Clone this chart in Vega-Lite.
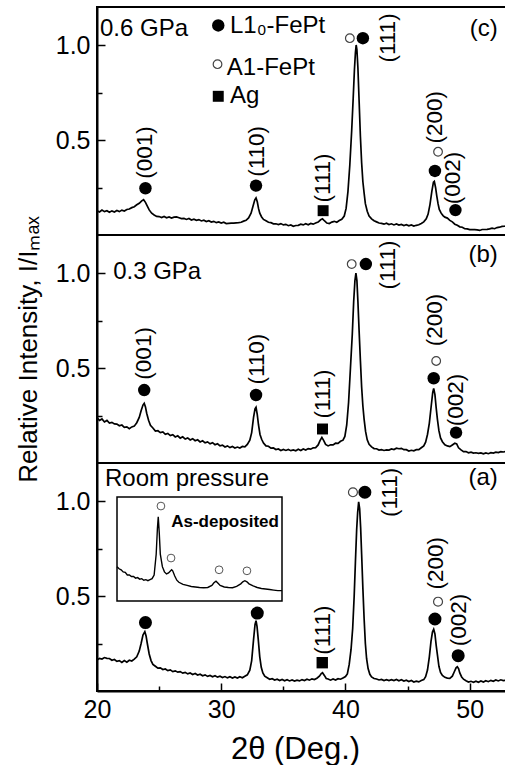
{
  "$schema": "https://vega.github.io/schema/vega-lite/v6.json",
  "background": "white",
  "padding": {"left": 13, "top": 6, "right": 0, "bottom": 0},
  "spacing": 0,
  "bounds": "flush",
  "config": {
    "concat": {"spacing": 0},
    "view": {"stroke": "black", "strokeWidth": 2},
    "font": "Liberation Sans",
    "axis": {"grid": false, "domainColor": "black", "domainWidth": 2, "tickColor": "black", "tickWidth": 1.5, "labelColor": "black", "titleColor": "black", "labelFont": "Liberation Sans", "titleFont": "Liberation Sans", "labelFontSize": 25, "titleFontWeight": "normal", "labelFlush": false}
  },
  "datasets": {
    "specC": [
      {"x":20.0,"y":0.128},{"x":20.2,"y":0.121},{"x":20.4,"y":0.131},{"x":20.6,"y":0.123},{"x":20.8,"y":0.128},{"x":21.0,"y":0.120},{"x":21.2,"y":0.127},{"x":21.4,"y":0.121},{"x":21.6,"y":0.129},{"x":21.8,"y":0.123},{"x":22.0,"y":0.131},{"x":22.2,"y":0.126},{"x":22.4,"y":0.134},{"x":22.6,"y":0.137},{"x":22.8,"y":0.144},{"x":23.0,"y":0.149},{"x":23.2,"y":0.159},{"x":23.4,"y":0.167},{"x":23.6,"y":0.180},{"x":23.75,"y":0.186},{"x":23.9,"y":0.172},{"x":24.05,"y":0.152},{"x":24.2,"y":0.132},{"x":24.4,"y":0.115},{"x":24.6,"y":0.105},{"x":24.8,"y":0.098},{"x":25.0,"y":0.097},{"x":25.2,"y":0.092},{"x":25.4,"y":0.098},{"x":25.6,"y":0.091},{"x":25.8,"y":0.095},{"x":26.0,"y":0.089},{"x":26.2,"y":0.094},{"x":26.4,"y":0.095},{"x":26.6,"y":0.091},{"x":26.8,"y":0.086},{"x":27.0,"y":0.087},{"x":27.2,"y":0.082},{"x":27.4,"y":0.087},{"x":27.6,"y":0.079},{"x":27.8,"y":0.083},{"x":28.0,"y":0.077},{"x":28.2,"y":0.081},{"x":28.4,"y":0.074},{"x":28.6,"y":0.078},{"x":28.8,"y":0.071},{"x":29.0,"y":0.075},{"x":29.2,"y":0.068},{"x":29.4,"y":0.072},{"x":29.6,"y":0.065},{"x":29.8,"y":0.069},{"x":30.0,"y":0.063},{"x":30.2,"y":0.067},{"x":30.4,"y":0.060},{"x":30.6,"y":0.061},{"x":30.8,"y":0.062},{"x":31.0,"y":0.063},{"x":31.2,"y":0.064},{"x":31.4,"y":0.065},{"x":31.6,"y":0.067},{"x":31.8,"y":0.073},{"x":32.0,"y":0.077},{"x":32.2,"y":0.090},{"x":32.4,"y":0.115},{"x":32.55,"y":0.150},{"x":32.7,"y":0.185},{"x":32.8,"y":0.195},{"x":32.9,"y":0.175},{"x":33.0,"y":0.140},{"x":33.1,"y":0.115},{"x":33.25,"y":0.095},{"x":33.4,"y":0.082},{"x":33.6,"y":0.075},{"x":33.8,"y":0.067},{"x":34.0,"y":0.065},{"x":34.2,"y":0.059},{"x":34.4,"y":0.059},{"x":34.6,"y":0.055},{"x":34.8,"y":0.060},{"x":35.0,"y":0.053},{"x":35.2,"y":0.056},{"x":35.4,"y":0.049},{"x":35.6,"y":0.053},{"x":35.8,"y":0.046},{"x":36.0,"y":0.050},{"x":36.2,"y":0.051},{"x":36.4,"y":0.057},{"x":36.6,"y":0.053},{"x":36.8,"y":0.059},{"x":37.0,"y":0.054},{"x":37.2,"y":0.061},{"x":37.4,"y":0.057},{"x":37.6,"y":0.063},{"x":37.8,"y":0.068},{"x":38.0,"y":0.080},{"x":38.15,"y":0.085},{"x":38.3,"y":0.075},{"x":38.5,"y":0.063},{"x":38.7,"y":0.060},{"x":38.9,"y":0.068},{"x":39.1,"y":0.072},{"x":39.3,"y":0.067},{"x":39.5,"y":0.076},{"x":39.7,"y":0.083},{"x":39.9,"y":0.100},{"x":40.05,"y":0.140},{"x":40.2,"y":0.230},{"x":40.35,"y":0.370},{"x":40.5,"y":0.550},{"x":40.62,"y":0.720},{"x":40.72,"y":0.870},{"x":40.8,"y":0.960},{"x":40.86,"y":1.000},{"x":40.92,"y":0.975},{"x":41.0,"y":0.880},{"x":41.1,"y":0.700},{"x":41.2,"y":0.520},{"x":41.3,"y":0.380},{"x":41.4,"y":0.280},{"x":41.5,"y":0.220},{"x":41.6,"y":0.165},{"x":41.75,"y":0.125},{"x":41.9,"y":0.100},{"x":42.1,"y":0.085},{"x":42.3,"y":0.075},{"x":42.5,"y":0.069},{"x":42.7,"y":0.063},{"x":42.9,"y":0.061},{"x":43.1,"y":0.057},{"x":43.3,"y":0.062},{"x":43.5,"y":0.055},{"x":43.7,"y":0.059},{"x":43.9,"y":0.053},{"x":44.1,"y":0.058},{"x":44.3,"y":0.052},{"x":44.5,"y":0.056},{"x":44.7,"y":0.050},{"x":44.9,"y":0.054},{"x":45.1,"y":0.048},{"x":45.3,"y":0.053},{"x":45.5,"y":0.047},{"x":45.7,"y":0.051},{"x":45.9,"y":0.054},{"x":46.1,"y":0.061},{"x":46.3,"y":0.069},{"x":46.5,"y":0.085},{"x":46.65,"y":0.110},{"x":46.8,"y":0.160},{"x":46.95,"y":0.230},{"x":47.08,"y":0.278},{"x":47.15,"y":0.282},{"x":47.25,"y":0.250},{"x":47.35,"y":0.205},{"x":47.45,"y":0.165},{"x":47.55,"y":0.135},{"x":47.7,"y":0.115},{"x":47.85,"y":0.102},{"x":48.0,"y":0.094},{"x":48.2,"y":0.089},{"x":48.4,"y":0.077},{"x":48.6,"y":0.069},{"x":48.8,"y":0.057},{"x":49.0,"y":0.051},{"x":49.2,"y":0.043},{"x":49.4,"y":0.041},{"x":49.6,"y":0.033},{"x":49.8,"y":0.032},{"x":50.0,"y":0.028},{"x":50.2,"y":0.028},{"x":50.4,"y":0.028},{"x":50.6,"y":0.027},{"x":50.8,"y":0.024},{"x":51.0,"y":0.029},{"x":51.2,"y":0.029},{"x":51.4,"y":0.030},{"x":51.6,"y":0.032},{"x":51.8,"y":0.036},{"x":52.0,"y":0.033},{"x":52.2,"y":0.039},{"x":52.4,"y":0.041},{"x":52.6,"y":0.045},{"x":52.8,"y":0.046},{"x":53.0,"y":0.048}
    ],
    "specB": [
      {"x":20.0,"y":0.238},{"x":20.2,"y":0.224},{"x":20.4,"y":0.232},{"x":20.6,"y":0.216},{"x":20.8,"y":0.224},{"x":21.0,"y":0.210},{"x":21.2,"y":0.214},{"x":21.4,"y":0.206},{"x":21.6,"y":0.205},{"x":21.8,"y":0.196},{"x":22.0,"y":0.200},{"x":22.2,"y":0.188},{"x":22.4,"y":0.190},{"x":22.6,"y":0.181},{"x":22.8,"y":0.190},{"x":23.0,"y":0.194},{"x":23.2,"y":0.212},{"x":23.4,"y":0.240},{"x":23.55,"y":0.275},{"x":23.7,"y":0.305},{"x":23.8,"y":0.314},{"x":23.9,"y":0.295},{"x":24.0,"y":0.262},{"x":24.15,"y":0.225},{"x":24.3,"y":0.198},{"x":24.5,"y":0.184},{"x":24.7,"y":0.168},{"x":24.9,"y":0.170},{"x":25.1,"y":0.160},{"x":25.3,"y":0.164},{"x":25.5,"y":0.151},{"x":25.7,"y":0.156},{"x":25.9,"y":0.144},{"x":26.1,"y":0.149},{"x":26.3,"y":0.137},{"x":26.5,"y":0.143},{"x":26.7,"y":0.131},{"x":26.9,"y":0.138},{"x":27.1,"y":0.126},{"x":27.3,"y":0.132},{"x":27.5,"y":0.121},{"x":27.7,"y":0.128},{"x":27.9,"y":0.117},{"x":28.1,"y":0.122},{"x":28.3,"y":0.111},{"x":28.5,"y":0.117},{"x":28.7,"y":0.106},{"x":28.9,"y":0.111},{"x":29.1,"y":0.101},{"x":29.3,"y":0.107},{"x":29.5,"y":0.096},{"x":29.7,"y":0.101},{"x":29.9,"y":0.090},{"x":30.1,"y":0.094},{"x":30.3,"y":0.084},{"x":30.5,"y":0.090},{"x":30.7,"y":0.081},{"x":30.9,"y":0.087},{"x":31.1,"y":0.079},{"x":31.3,"y":0.084},{"x":31.5,"y":0.079},{"x":31.7,"y":0.087},{"x":31.9,"y":0.085},{"x":32.1,"y":0.098},{"x":32.3,"y":0.120},{"x":32.45,"y":0.160},{"x":32.6,"y":0.240},{"x":32.72,"y":0.285},{"x":32.8,"y":0.293},{"x":32.9,"y":0.255},{"x":33.0,"y":0.200},{"x":33.12,"y":0.150},{"x":33.25,"y":0.125},{"x":33.4,"y":0.105},{"x":33.6,"y":0.090},{"x":33.8,"y":0.088},{"x":34.0,"y":0.078},{"x":34.2,"y":0.079},{"x":34.4,"y":0.071},{"x":34.6,"y":0.074},{"x":34.8,"y":0.066},{"x":35.0,"y":0.071},{"x":35.2,"y":0.066},{"x":35.4,"y":0.071},{"x":35.6,"y":0.065},{"x":35.8,"y":0.069},{"x":36.0,"y":0.064},{"x":36.2,"y":0.072},{"x":36.4,"y":0.066},{"x":36.6,"y":0.074},{"x":36.8,"y":0.068},{"x":37.0,"y":0.076},{"x":37.2,"y":0.073},{"x":37.4,"y":0.080},{"x":37.6,"y":0.081},{"x":37.8,"y":0.095},{"x":37.95,"y":0.118},{"x":38.1,"y":0.135},{"x":38.25,"y":0.118},{"x":38.4,"y":0.098},{"x":38.6,"y":0.090},{"x":38.8,"y":0.096},{"x":39.0,"y":0.095},{"x":39.2,"y":0.104},{"x":39.4,"y":0.103},{"x":39.6,"y":0.114},{"x":39.8,"y":0.120},{"x":39.95,"y":0.140},{"x":40.1,"y":0.200},{"x":40.25,"y":0.320},{"x":40.4,"y":0.500},{"x":40.55,"y":0.680},{"x":40.66,"y":0.850},{"x":40.76,"y":0.960},{"x":40.84,"y":1.000},{"x":40.92,"y":0.960},{"x":41.0,"y":0.850},{"x":41.1,"y":0.690},{"x":41.2,"y":0.540},{"x":41.3,"y":0.400},{"x":41.4,"y":0.300},{"x":41.5,"y":0.230},{"x":41.62,"y":0.165},{"x":41.75,"y":0.122},{"x":41.9,"y":0.098},{"x":42.1,"y":0.085},{"x":42.3,"y":0.076},{"x":42.5,"y":0.075},{"x":42.7,"y":0.068},{"x":42.9,"y":0.070},{"x":43.1,"y":0.066},{"x":43.3,"y":0.069},{"x":43.5,"y":0.068},{"x":43.7,"y":0.074},{"x":43.9,"y":0.071},{"x":44.1,"y":0.078},{"x":44.3,"y":0.075},{"x":44.5,"y":0.077},{"x":44.7,"y":0.070},{"x":44.9,"y":0.070},{"x":45.1,"y":0.063},{"x":45.3,"y":0.067},{"x":45.5,"y":0.064},{"x":45.7,"y":0.070},{"x":45.9,"y":0.070},{"x":46.1,"y":0.080},{"x":46.3,"y":0.090},{"x":46.45,"y":0.110},{"x":46.6,"y":0.150},{"x":46.75,"y":0.210},{"x":46.9,"y":0.300},{"x":47.02,"y":0.370},{"x":47.1,"y":0.393},{"x":47.2,"y":0.360},{"x":47.3,"y":0.290},{"x":47.4,"y":0.230},{"x":47.52,"y":0.170},{"x":47.65,"y":0.132},{"x":47.8,"y":0.112},{"x":48.0,"y":0.096},{"x":48.2,"y":0.090},{"x":48.4,"y":0.086},{"x":48.6,"y":0.095},{"x":48.8,"y":0.104},{"x":48.95,"y":0.100},{"x":49.1,"y":0.080},{"x":49.3,"y":0.069},{"x":49.5,"y":0.060},{"x":49.7,"y":0.060},{"x":49.9,"y":0.054},{"x":50.1,"y":0.057},{"x":50.3,"y":0.052},{"x":50.5,"y":0.054},{"x":50.7,"y":0.051},{"x":50.9,"y":0.053},{"x":51.1,"y":0.048},{"x":51.3,"y":0.053},{"x":51.5,"y":0.049},{"x":51.7,"y":0.054},{"x":51.9,"y":0.052},{"x":52.1,"y":0.057},{"x":52.3,"y":0.055},{"x":52.5,"y":0.060},{"x":52.7,"y":0.058},{"x":53.0,"y":0.061}
    ],
    "specA": [
      {"x":20.0,"y":0.163},{"x":20.2,"y":0.172},{"x":20.4,"y":0.168},{"x":20.6,"y":0.176},{"x":20.8,"y":0.172},{"x":21.0,"y":0.171},{"x":21.2,"y":0.162},{"x":21.4,"y":0.166},{"x":21.6,"y":0.156},{"x":21.8,"y":0.160},{"x":22.0,"y":0.150},{"x":22.2,"y":0.160},{"x":22.4,"y":0.152},{"x":22.6,"y":0.162},{"x":22.8,"y":0.158},{"x":23.0,"y":0.168},{"x":23.2,"y":0.180},{"x":23.4,"y":0.210},{"x":23.55,"y":0.250},{"x":23.7,"y":0.295},{"x":23.85,"y":0.312},{"x":23.95,"y":0.290},{"x":24.05,"y":0.250},{"x":24.2,"y":0.195},{"x":24.35,"y":0.160},{"x":24.5,"y":0.140},{"x":24.7,"y":0.130},{"x":24.9,"y":0.120},{"x":25.1,"y":0.122},{"x":25.3,"y":0.113},{"x":25.5,"y":0.116},{"x":25.7,"y":0.107},{"x":25.9,"y":0.111},{"x":26.1,"y":0.102},{"x":26.3,"y":0.106},{"x":26.5,"y":0.099},{"x":26.7,"y":0.102},{"x":26.9,"y":0.094},{"x":27.1,"y":0.098},{"x":27.3,"y":0.090},{"x":27.5,"y":0.095},{"x":27.7,"y":0.087},{"x":27.9,"y":0.092},{"x":28.1,"y":0.084},{"x":28.3,"y":0.088},{"x":28.5,"y":0.080},{"x":28.7,"y":0.085},{"x":28.9,"y":0.077},{"x":29.1,"y":0.082},{"x":29.3,"y":0.075},{"x":29.5,"y":0.080},{"x":29.7,"y":0.073},{"x":29.9,"y":0.078},{"x":30.1,"y":0.071},{"x":30.3,"y":0.076},{"x":30.5,"y":0.069},{"x":30.7,"y":0.075},{"x":30.9,"y":0.068},{"x":31.1,"y":0.074},{"x":31.3,"y":0.068},{"x":31.5,"y":0.075},{"x":31.7,"y":0.070},{"x":31.9,"y":0.078},{"x":32.1,"y":0.085},{"x":32.3,"y":0.110},{"x":32.45,"y":0.160},{"x":32.6,"y":0.270},{"x":32.72,"y":0.350},{"x":32.8,"y":0.370},{"x":32.88,"y":0.340},{"x":32.98,"y":0.270},{"x":33.1,"y":0.180},{"x":33.22,"y":0.125},{"x":33.35,"y":0.095},{"x":33.5,"y":0.078},{"x":33.7,"y":0.070},{"x":33.9,"y":0.062},{"x":34.1,"y":0.065},{"x":34.3,"y":0.058},{"x":34.5,"y":0.062},{"x":34.7,"y":0.055},{"x":34.9,"y":0.061},{"x":35.1,"y":0.054},{"x":35.3,"y":0.059},{"x":35.5,"y":0.053},{"x":35.7,"y":0.058},{"x":35.9,"y":0.052},{"x":36.1,"y":0.057},{"x":36.3,"y":0.053},{"x":36.5,"y":0.060},{"x":36.7,"y":0.055},{"x":36.9,"y":0.062},{"x":37.1,"y":0.057},{"x":37.3,"y":0.064},{"x":37.5,"y":0.060},{"x":37.7,"y":0.067},{"x":37.9,"y":0.078},{"x":38.05,"y":0.092},{"x":38.15,"y":0.096},{"x":38.3,"y":0.082},{"x":38.45,"y":0.066},{"x":38.6,"y":0.063},{"x":38.8,"y":0.057},{"x":39.0,"y":0.063},{"x":39.2,"y":0.058},{"x":39.4,"y":0.065},{"x":39.6,"y":0.062},{"x":39.8,"y":0.069},{"x":40.0,"y":0.076},{"x":40.15,"y":0.090},{"x":40.3,"y":0.140},{"x":40.45,"y":0.220},{"x":40.58,"y":0.330},{"x":40.7,"y":0.500},{"x":40.8,"y":0.680},{"x":40.9,"y":0.850},{"x":40.98,"y":0.940},{"x":41.06,"y":0.996},{"x":41.14,"y":0.960},{"x":41.22,"y":0.860},{"x":41.3,"y":0.720},{"x":41.4,"y":0.540},{"x":41.5,"y":0.380},{"x":41.6,"y":0.250},{"x":41.7,"y":0.170},{"x":41.82,"y":0.118},{"x":41.96,"y":0.088},{"x":42.1,"y":0.074},{"x":42.3,"y":0.066},{"x":42.5,"y":0.063},{"x":42.7,"y":0.058},{"x":42.9,"y":0.061},{"x":43.1,"y":0.055},{"x":43.3,"y":0.060},{"x":43.5,"y":0.055},{"x":43.7,"y":0.060},{"x":43.9,"y":0.055},{"x":44.1,"y":0.061},{"x":44.3,"y":0.054},{"x":44.5,"y":0.059},{"x":44.7,"y":0.052},{"x":44.9,"y":0.057},{"x":45.1,"y":0.050},{"x":45.3,"y":0.055},{"x":45.5,"y":0.047},{"x":45.7,"y":0.052},{"x":45.9,"y":0.048},{"x":46.1,"y":0.055},{"x":46.3,"y":0.060},{"x":46.45,"y":0.075},{"x":46.6,"y":0.110},{"x":46.75,"y":0.180},{"x":46.88,"y":0.260},{"x":47.0,"y":0.310},{"x":47.1,"y":0.325},{"x":47.2,"y":0.300},{"x":47.3,"y":0.240},{"x":47.4,"y":0.190},{"x":47.52,"y":0.130},{"x":47.65,"y":0.098},{"x":47.8,"y":0.082},{"x":48.0,"y":0.072},{"x":48.2,"y":0.068},{"x":48.4,"y":0.066},{"x":48.6,"y":0.078},{"x":48.75,"y":0.100},{"x":48.9,"y":0.122},{"x":49.0,"y":0.128},{"x":49.1,"y":0.118},{"x":49.2,"y":0.095},{"x":49.35,"y":0.074},{"x":49.5,"y":0.062},{"x":49.7,"y":0.054},{"x":49.9,"y":0.047},{"x":50.1,"y":0.051},{"x":50.3,"y":0.046},{"x":50.5,"y":0.052},{"x":50.7,"y":0.046},{"x":50.9,"y":0.053},{"x":51.1,"y":0.047},{"x":51.3,"y":0.054},{"x":51.5,"y":0.049},{"x":51.7,"y":0.056},{"x":51.9,"y":0.051},{"x":52.1,"y":0.058},{"x":52.3,"y":0.053},{"x":52.5,"y":0.059},{"x":52.7,"y":0.055},{"x":53.0,"y":0.058}
    ],
    "inset": [
      {"x":20,"y":0.33},{"x":21,"y":0.31},{"x":22,"y":0.30},{"x":23,"y":0.28},{"x":24,"y":0.275},{"x":25,"y":0.25},{"x":26,"y":0.25},{"x":27,"y":0.235},{"x":28,"y":0.235},{"x":29,"y":0.22},{"x":30,"y":0.225},{"x":31,"y":0.21},{"x":32,"y":0.215},{"x":33,"y":0.20},{"x":34,"y":0.205},{"x":35,"y":0.195},{"x":36,"y":0.205},{"x":37,"y":0.215},{"x":38,"y":0.25},{"x":39,"y":0.45},{"x":39.6,"y":0.70},{"x":40,"y":0.81},{"x":40.5,"y":0.65},{"x":41,"y":0.45},{"x":42,"y":0.33},{"x":43,"y":0.28},{"x":44,"y":0.26},{"x":45,"y":0.27},{"x":46,"y":0.29},{"x":46.5,"y":0.30},{"x":47,"y":0.29},{"x":48,"y":0.24},{"x":49,"y":0.20},{"x":50,"y":0.18},{"x":52,"y":0.16},{"x":54,"y":0.15},{"x":56,"y":0.14},{"x":58,"y":0.135},{"x":60,"y":0.13},{"x":62,"y":0.128},{"x":64,"y":0.13},{"x":66,"y":0.15},{"x":67,"y":0.175},{"x":68,"y":0.19},{"x":69,"y":0.17},{"x":70,"y":0.15},{"x":72,"y":0.135},{"x":74,"y":0.13},{"x":76,"y":0.128},{"x":78,"y":0.14},{"x":80,"y":0.165},{"x":81,"y":0.185},{"x":82,"y":0.195},{"x":83,"y":0.185},{"x":84,"y":0.165},{"x":86,"y":0.145},{"x":88,"y":0.13},{"x":90,"y":0.12},{"x":92,"y":0.115},{"x":94,"y":0.11},{"x":96,"y":0.105},{"x":98,"y":0.10},{"x":100,"y":0.10}
    ],
    "insetMarks": [
      {"x":41.3,"y":0.913},{"x":46.2,"y":0.413},{"x":69.5,"y":0.30},{"x":83.0,"y":0.29}
    ],
    "insetText": [
      {"x":72.4,"y":0.755,"label":"As-deposited"}
    ],
    "symbols": [
      {"panel":"c","kind":"L10","x":23.9,"y":0.246},{"panel":"c","kind":"L10","x":32.8,"y":0.26},{"panel":"c","kind":"L10","x":41.4,"y":1.036},{"panel":"c","kind":"L10","x":47.2,"y":0.337},{"panel":"c","kind":"L10","x":48.85,"y":0.131},{"panel":"c","kind":"L10","x":29.76,"y":1.103},
      {"panel":"c","kind":"A1","x":40.35,"y":1.036},{"panel":"c","kind":"A1","x":47.45,"y":0.438},{"panel":"c","kind":"A1","x":29.7,"y":0.899},
      {"panel":"c","kind":"Ag","x":38.2,"y":0.128},{"panel":"c","kind":"Ag","x":29.76,"y":0.73},
      {"panel":"b","kind":"L10","x":23.8,"y":0.384},{"panel":"b","kind":"L10","x":32.8,"y":0.358},{"panel":"b","kind":"L10","x":41.64,"y":1.047},{"panel":"b","kind":"L10","x":47.1,"y":0.446},{"panel":"b","kind":"L10","x":48.9,"y":0.16},
      {"panel":"b","kind":"A1","x":40.5,"y":1.047},{"panel":"b","kind":"A1","x":47.3,"y":0.537},
      {"panel":"b","kind":"Ag","x":38.15,"y":0.179},
      {"panel":"a","kind":"L10","x":23.9,"y":0.36},{"panel":"a","kind":"L10","x":32.9,"y":0.41},{"panel":"a","kind":"L10","x":41.56,"y":1.046},{"panel":"a","kind":"L10","x":47.2,"y":0.379},{"panel":"a","kind":"L10","x":49.07,"y":0.186},
      {"panel":"a","kind":"A1","x":40.6,"y":1.046},{"panel":"a","kind":"A1","x":47.45,"y":0.47},
      {"panel":"a","kind":"Ag","x":38.13,"y":0.149}
    ],
    "peaks": [
      {"panel":"c","x":23.9,"y":0.434,"label":"(001)"},{"panel":"c","x":32.84,"y":0.44,"label":"(110)"},{"panel":"c","x":38.2,"y":0.30,"label":"(111)"},{"panel":"c","x":43.43,"y":1.037,"label":"(111)"},{"panel":"c","x":47.2,"y":0.62,"label":"(200)"},{"panel":"c","x":48.67,"y":0.30,"label":"(002)"},
      {"panel":"b","x":23.8,"y":0.577,"label":"(001)"},{"panel":"b","x":32.84,"y":0.547,"label":"(110)"},{"panel":"b","x":38.2,"y":0.363,"label":"(111)"},{"panel":"b","x":43.43,"y":1.042,"label":"(111)"},{"panel":"b","x":47.2,"y":0.753,"label":"(200)"},{"panel":"b","x":48.9,"y":0.332,"label":"(002)"},
      {"panel":"a","x":38.15,"y":0.32,"label":"(111)"},{"panel":"a","x":43.57,"y":1.045,"label":"(111)"},{"panel":"a","x":47.32,"y":0.672,"label":"(200)"},{"panel":"a","x":49.1,"y":0.374,"label":"(002)"}
    ],
    "leftNotes": [
      {"panel":"c","x":20.24,"y":1.085,"label":"0.6 GPa"},{"panel":"c","x":30.7,"y":1.10,"label":"L1₀-FePt"},{"panel":"c","x":30.45,"y":0.88,"label":"A1-FePt"},{"panel":"c","x":30.7,"y":0.729,"label":"Ag"},
      {"panel":"b","x":21.3,"y":1.007,"label":"0.3 GPa"},
      {"panel":"a","x":20.64,"y":1.118,"label":"Room pressure"}
    ],
    "rightNotes": [
      {"panel":"c","x":52.26,"y":1.085,"label":"(c)"},{"panel":"b","x":52.26,"y":1.095,"label":"(b)"},{"panel":"a","x":52.26,"y":1.12,"label":"(a)"}
    ]
  },
  "vconcat": [
    {
      "width": 410, "height": 228,
      "encoding": {
        "x": {"field": "x", "type": "quantitative", "scale": {"domain": [20, 53], "nice": false, "zero": false}, "axis": null},
        "y": {"field": "y", "type": "quantitative", "scale": {"domain": [0, 1.2], "nice": false}, "axis": {"values": [0.25, 0.5, 0.75, 1.0], "labelExpr": "datum.value == 0.5 || datum.value == 1 ? format(datum.value, '.1f') : ''", "tickSize": {"condition": {"test": "datum.value == 0.25 || datum.value == 0.75", "value": -5}, "value": -8}, "labelPadding": 15, "title": null}}
      },
      "layer": [
        {"data": {"name": "specC"}, "mark": {"type": "line", "color": "black", "strokeWidth": 1.7}},
        {"data": {"name": "symbols"}, "transform": [{"filter": "datum.panel == 'c' && datum.kind == 'L10'"}], "mark": {"type": "point", "shape": "circle", "filled": true, "color": "black", "size": 155, "opacity": 1}},
        {"data": {"name": "symbols"}, "transform": [{"filter": "datum.panel == 'c' && datum.kind == 'A1'"}], "mark": {"type": "point", "shape": "circle", "filled": false, "color": "#444444", "strokeWidth": 1.2, "size": 75, "opacity": 1}},
        {"data": {"name": "symbols"}, "transform": [{"filter": "datum.panel == 'c' && datum.kind == 'Ag'"}], "mark": {"type": "point", "shape": "square", "filled": true, "color": "black", "size": 120, "opacity": 1}},
        {"data": {"name": "peaks"}, "transform": [{"filter": "datum.panel == 'c'"}], "mark": {"type": "text", "angle": 270, "align": "center", "baseline": "middle", "fontSize": 22.5, "color": "black"}, "encoding": {"text": {"field": "label"}}},
        {"data": {"name": "leftNotes"}, "transform": [{"filter": "datum.panel == 'c'"}], "mark": {"type": "text", "align": "left", "baseline": "middle", "fontSize": 24, "color": "black"}, "encoding": {"text": {"field": "label"}}},
        {"data": {"name": "rightNotes"}, "transform": [{"filter": "datum.panel == 'c'"}], "mark": {"type": "text", "align": "right", "baseline": "middle", "fontSize": 24, "color": "black"}, "encoding": {"text": {"field": "label"}}}
      ]
    },
    {
      "width": 410, "height": 228,
      "encoding": {
        "x": {"field": "x", "type": "quantitative", "scale": {"domain": [20, 53], "nice": false, "zero": false}, "axis": null},
        "y": {"field": "y", "type": "quantitative", "scale": {"domain": [0, 1.2], "nice": false}, "axis": {"values": [0.25, 0.5, 0.75, 1.0], "labelExpr": "datum.value == 0.5 || datum.value == 1 ? format(datum.value, '.1f') : ''", "tickSize": {"condition": {"test": "datum.value == 0.25 || datum.value == 0.75", "value": -5}, "value": -8}, "labelPadding": 15, "title": "Relative Intensity, I/Iₘₐₓ", "titleFontSize": 26, "titleX": -56, "titleBaseline": "bottom"}}
      },
      "layer": [
        {"data": {"name": "specB"}, "mark": {"type": "line", "color": "black", "strokeWidth": 1.7}},
        {"data": {"name": "symbols"}, "transform": [{"filter": "datum.panel == 'b' && datum.kind == 'L10'"}], "mark": {"type": "point", "shape": "circle", "filled": true, "color": "black", "size": 155, "opacity": 1}},
        {"data": {"name": "symbols"}, "transform": [{"filter": "datum.panel == 'b' && datum.kind == 'A1'"}], "mark": {"type": "point", "shape": "circle", "filled": false, "color": "#444444", "strokeWidth": 1.2, "size": 75, "opacity": 1}},
        {"data": {"name": "symbols"}, "transform": [{"filter": "datum.panel == 'b' && datum.kind == 'Ag'"}], "mark": {"type": "point", "shape": "square", "filled": true, "color": "black", "size": 120, "opacity": 1}},
        {"data": {"name": "peaks"}, "transform": [{"filter": "datum.panel == 'b'"}], "mark": {"type": "text", "angle": 270, "align": "center", "baseline": "middle", "fontSize": 22.5, "color": "black"}, "encoding": {"text": {"field": "label"}}},
        {"data": {"name": "leftNotes"}, "transform": [{"filter": "datum.panel == 'b'"}], "mark": {"type": "text", "align": "left", "baseline": "middle", "fontSize": 24, "color": "black"}, "encoding": {"text": {"field": "label"}}},
        {"data": {"name": "rightNotes"}, "transform": [{"filter": "datum.panel == 'b'"}], "mark": {"type": "text", "align": "right", "baseline": "middle", "fontSize": 24, "color": "black"}, "encoding": {"text": {"field": "label"}}}
      ]
    },
    {
      "width": 410, "height": 228,
      "resolve": {"scale": {"x": "independent", "y": "independent"}, "axis": {"x": "independent", "y": "independent"}},
      "layer": [
        {
          "encoding": {
            "x": {"field": "x", "type": "quantitative", "scale": {"domain": [20, 53], "nice": false, "zero": false}, "axis": {"orient": "bottom", "values": [20, 25, 30, 35, 40, 45, 50], "labelExpr": "datum.value % 10 == 0 ? datum.label : ''", "tickSize": {"condition": {"test": "datum.value % 10 != 0", "value": -5}, "value": -8}, "labelPadding": 14, "title": "2θ (Deg.)", "titleFontSize": 31, "titleX": 198, "titleY": 67, "titleBaseline": "alphabetic"}},
            "y": {"field": "y", "type": "quantitative", "scale": {"domain": [0, 1.2], "nice": false}, "axis": {"orient": "left", "values": [0.25, 0.5, 0.75, 1.0], "labelExpr": "datum.value == 0.5 || datum.value == 1 ? format(datum.value, '.1f') : ''", "tickSize": {"condition": {"test": "datum.value == 0.25 || datum.value == 0.75", "value": -5}, "value": -8}, "labelPadding": 15, "title": null}}
          },
          "layer": [
            {"data": {"name": "specA"}, "mark": {"type": "line", "color": "black", "strokeWidth": 1.7}},
            {"data": {"name": "symbols"}, "transform": [{"filter": "datum.panel == 'a' && datum.kind == 'L10'"}], "mark": {"type": "point", "shape": "circle", "filled": true, "color": "black", "size": 170, "opacity": 1}},
            {"data": {"name": "symbols"}, "transform": [{"filter": "datum.panel == 'a' && datum.kind == 'A1'"}], "mark": {"type": "point", "shape": "circle", "filled": false, "color": "#444444", "strokeWidth": 1.2, "size": 80, "opacity": 1}},
            {"data": {"name": "symbols"}, "transform": [{"filter": "datum.panel == 'a' && datum.kind == 'Ag'"}], "mark": {"type": "point", "shape": "square", "filled": true, "color": "black", "size": 130, "opacity": 1}},
            {"data": {"name": "peaks"}, "transform": [{"filter": "datum.panel == 'a'"}], "mark": {"type": "text", "angle": 270, "align": "center", "baseline": "middle", "fontSize": 22.5, "color": "black"}, "encoding": {"text": {"field": "label"}}},
            {"data": {"name": "leftNotes"}, "transform": [{"filter": "datum.panel == 'a'"}], "mark": {"type": "text", "align": "left", "baseline": "middle", "fontSize": 24, "color": "black"}, "encoding": {"text": {"field": "label"}}},
            {"data": {"name": "rightNotes"}, "transform": [{"filter": "datum.panel == 'a'"}], "mark": {"type": "text", "align": "right", "baseline": "middle", "fontSize": 24, "color": "black"}, "encoding": {"text": {"field": "label"}}}
          ]
        },
        {
          "layer": [
            {"data": {"values": [{}]}, "mark": {"type": "rect", "fill": "white", "stroke": "black", "strokeWidth": 1.5},
             "encoding": {
               "x": {"datum": 20, "type": "quantitative", "scale": {"domain": [20, 100], "range": [20, 185], "nice": false, "zero": false}, "axis": {"orient": "bottom", "offset": -90, "values": [30, 40, 50, 60, 70, 80, 90], "labels": false, "domain": false, "tickSize": -4, "tickWidth": 1.2, "title": null}},
               "x2": {"datum": 100},
               "y": {"datum": 0, "type": "quantitative", "scale": {"domain": [0, 1], "range": [138, 34], "nice": false, "zero": false}, "axis": null},
               "y2": {"datum": 1}
             }},
            {"data": {"name": "inset"}, "mark": {"type": "line", "color": "black", "strokeWidth": 1.4},
             "encoding": {
               "x": {"field": "x", "type": "quantitative", "axis": null},
               "y": {"field": "y", "type": "quantitative", "axis": null}
             }},
            {"data": {"name": "insetMarks"}, "mark": {"type": "point", "shape": "circle", "filled": false, "color": "#555555", "strokeWidth": 1, "size": 60, "opacity": 1},
             "encoding": {
               "x": {"field": "x", "type": "quantitative", "axis": null},
               "y": {"field": "y", "type": "quantitative", "axis": null}
             }},
            {"data": {"name": "insetText"}, "mark": {"type": "text", "align": "center", "baseline": "middle", "fontSize": 17, "fontWeight": "bold", "color": "black"},
             "encoding": {
               "x": {"field": "x", "type": "quantitative", "axis": null},
               "y": {"field": "y", "type": "quantitative", "axis": null},
               "text": {"field": "label"}
             }}
          ]
        }
      ]
    }
  ]
}
